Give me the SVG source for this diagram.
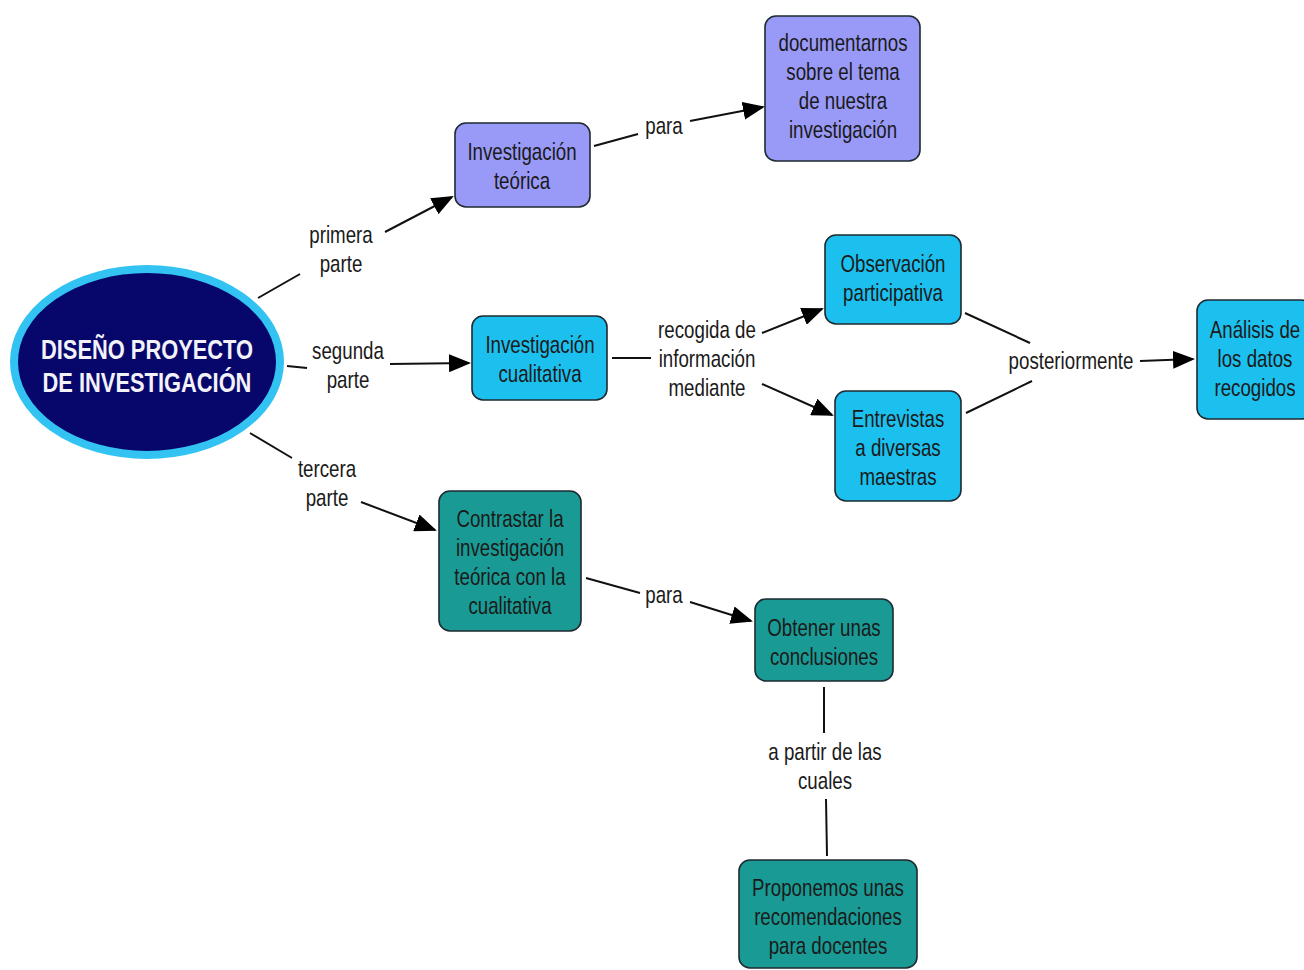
<svg xmlns="http://www.w3.org/2000/svg" width="1304" height="970" viewBox="0 0 1304 970">
<style>
text{font-family:"Liberation Sans",Arial,sans-serif;font-size:24px;fill:#1a1a1a;text-anchor:middle;dominant-baseline:central}
.box{stroke:#1e2a30;stroke-width:1.6}
.lav{fill:#9999f7}
.cyan{fill:#1cc0ee}
.teal{fill:#199a94}
.title{font-size:27px;font-weight:bold;fill:#f2f2f8}
.c{stroke:#111;stroke-width:2;fill:none}
.a{marker-end:url(#arr)}
</style>
<defs>
<marker id="arr" markerUnits="userSpaceOnUse" markerWidth="22" markerHeight="18" refX="20" refY="9" orient="auto">
<path d="M0,0 L22,9 L0,18 Z" fill="#000"/>
</marker>
</defs>
<rect width="1304" height="970" fill="#fff"/>
<g id="connectors">
<line class="c" x1="258" y1="298" x2="300" y2="274"/>
<line class="c a" x1="385" y1="232" x2="452" y2="197"/>
<line class="c" x1="287" y1="366" x2="307" y2="368"/>
<line class="c a" x1="390" y1="364" x2="469" y2="363"/>
<line class="c" x1="250" y1="433" x2="292" y2="458"/>
<line class="c a" x1="361" y1="502" x2="435" y2="530"/>
<line class="c" x1="594" y1="146" x2="638" y2="134"/>
<line class="c a" x1="690" y1="121" x2="763" y2="107"/>
<line class="c" x1="612" y1="358" x2="651" y2="358"/>
<line class="c a" x1="762" y1="333" x2="822" y2="309"/>
<line class="c a" x1="762" y1="384" x2="832" y2="415"/>
<line class="c" x1="965" y1="313" x2="1030" y2="343"/>
<line class="c" x1="966" y1="413" x2="1032" y2="381"/>
<line class="c a" x1="1140" y1="361" x2="1193" y2="359"/>
<line class="c" x1="586" y1="578" x2="640" y2="593"/>
<line class="c a" x1="690" y1="602" x2="751" y2="621"/>
<line class="c" x1="824" y1="687" x2="824" y2="733"/>
<line class="c" x1="826" y1="799" x2="827" y2="856"/>
</g>
<g id="labels">
<text transform="translate(341,235) scale(0.78,1)">primera</text><text transform="translate(341,264) scale(0.78,1)">parte</text>
<text transform="translate(348,351) scale(0.78,1)">segunda</text><text transform="translate(348,380) scale(0.78,1)">parte</text>
<text transform="translate(327,469) scale(0.78,1)">tercera</text><text transform="translate(327,498) scale(0.78,1)">parte</text>
<text transform="translate(664,126) scale(0.78,1)">para</text>
<text transform="translate(707,330) scale(0.78,1)">recogida de</text><text transform="translate(707,359) scale(0.78,1)">información</text><text transform="translate(707,388) scale(0.78,1)">mediante</text>
<text transform="translate(1071,361) scale(0.78,1)">posteriormente</text>
<text transform="translate(664,595) scale(0.78,1)">para</text>
<text transform="translate(825,752) scale(0.78,1)">a partir de las</text><text transform="translate(825,781) scale(0.78,1)">cuales</text>
</g>
<g id="n-main">
<ellipse cx="147" cy="362" rx="133" ry="93" fill="#07076b" stroke="#33c3f3" stroke-width="8"/>
<text class="title" transform="translate(147,350) scale(0.81,1)">DISEÑO PROYECTO</text>
<text class="title" transform="translate(147,383) scale(0.81,1)">DE INVESTIGACIÓN</text>
</g>
<g id="n-teorica">
<rect class="box lav" x="455" y="123" width="135" height="84" rx="11"/>
<text transform="translate(522,152) scale(0.78,1)">Investigación</text><text transform="translate(522,181) scale(0.78,1)">teórica</text>
</g>
<g id="n-documentarnos">
<rect class="box lav" x="765" y="16" width="155" height="145" rx="11"/>
<text transform="translate(843,43) scale(0.78,1)">documentarnos</text><text transform="translate(843,72) scale(0.78,1)">sobre el tema</text><text transform="translate(843,101) scale(0.78,1)">de nuestra</text><text transform="translate(843,130) scale(0.78,1)">investigación</text>
</g>
<g id="n-cualitativa">
<rect class="box cyan" x="472" y="316" width="135" height="84" rx="11"/>
<text transform="translate(540,345) scale(0.78,1)">Investigación</text><text transform="translate(540,374) scale(0.78,1)">cualitativa</text>
</g>
<g id="n-observacion">
<rect class="box cyan" x="825" y="235" width="136" height="89" rx="11"/>
<text transform="translate(893,264) scale(0.78,1)">Observación</text><text transform="translate(893,293) scale(0.78,1)">participativa</text>
</g>
<g id="n-entrevistas">
<rect class="box cyan" x="835" y="391" width="126" height="110" rx="11"/>
<text transform="translate(898,419) scale(0.78,1)">Entrevistas</text><text transform="translate(898,448) scale(0.78,1)">a diversas</text><text transform="translate(898,477) scale(0.78,1)">maestras</text>
</g>
<g id="n-analisis">
<rect class="box cyan" x="1197" y="300" width="115" height="119" rx="11"/>
<text transform="translate(1255,330) scale(0.78,1)">Análisis de</text><text transform="translate(1255,359) scale(0.78,1)">los datos</text><text transform="translate(1255,388) scale(0.78,1)">recogidos</text>
</g>
<g id="n-contrastar">
<rect class="box teal" x="439" y="491" width="142" height="140" rx="11"/>
<text transform="translate(510,519) scale(0.78,1)">Contrastar la</text><text transform="translate(510,548) scale(0.78,1)">investigación</text><text transform="translate(510,577) scale(0.78,1)">teórica con la</text><text transform="translate(510,606) scale(0.78,1)">cualitativa</text>
</g>
<g id="n-obtener">
<rect class="box teal" x="755" y="599" width="138" height="82" rx="11"/>
<text transform="translate(824,628) scale(0.78,1)">Obtener unas</text><text transform="translate(824,657) scale(0.78,1)">conclusiones</text>
</g>
<g id="n-proponemos">
<rect class="box teal" x="739" y="860" width="178" height="108" rx="11"/>
<text transform="translate(828,888) scale(0.78,1)">Proponemos unas</text><text transform="translate(828,917) scale(0.78,1)">recomendaciones</text><text transform="translate(828,946) scale(0.78,1)">para docentes</text>
</g>
</svg>
